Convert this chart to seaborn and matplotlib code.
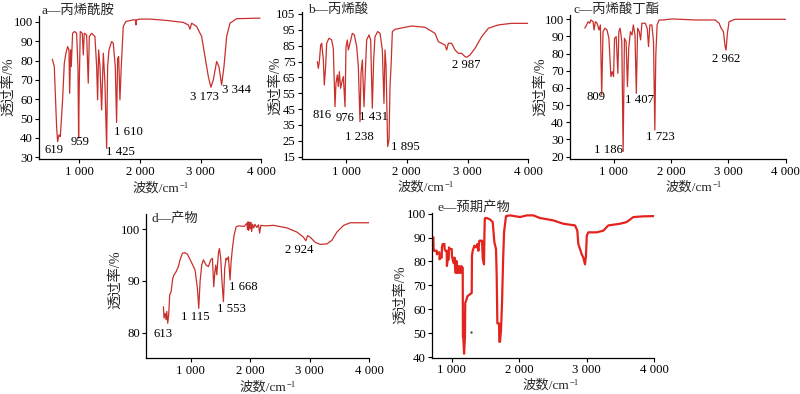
import numpy as np
import pandas as pd
import matplotlib
matplotlib.use('Agg')
import matplotlib.pyplot as plt
import seaborn as sns

# ---------------- data ----------------
a_wn = [555, 588, 626, 643, 665, 687, 725, 753, 780, 808, 830, 841, 857, 868, 890, 923, 956, 978, 989, 1000,
        1016, 1049, 1066, 1082, 1121, 1148, 1165, 1203, 1258, 1286, 1302, 1319, 1341, 1368, 1396, 1423, 1451, 1467,
        1489, 1533, 1560, 1593, 1615, 1632, 1649, 1670, 1692, 1725, 1769, 1890, 1925, 1934, 1943, 2000, 2165, 2440,
        2714, 2797, 2824, 2852, 2934, 3017, 3072, 3127, 3170, 3209, 3264, 3302, 3346, 3385, 3429, 3484, 3594, 3978]
a_tr = [80.7, 76.9, 45.9, 38.1, 41.6, 40.7, 59.7, 78.6, 83.8, 87.2, 85.5, 63.1, 85.5, 76.9, 94.1, 95, 94.1, 76.9, 40, 68.3,
        95, 94.1, 82.9, 94.1, 93.3, 68.3, 92.4, 94.1, 92.4, 76.9, 59.7, 85.5, 76.9, 54.5, 83.8, 68.3, 34.7, 76.9,
        85.5, 89.8, 89, 76.9, 48, 81.2, 82, 59.7, 76.9, 97.6, 100.2, 101, 101, 98.4, 101, 101.4, 101.4, 100.7,
        99.7, 98.4, 96.2, 99.3, 97.6, 92.4, 82, 71.7, 66.2, 70, 79.5, 76.9, 67.4, 76.9, 92.4, 99.3, 101.6, 101.9]
a_labels = ["619", "959", "1 425", "1 610", "3 173", "3 344"]
a_lab_x = [582, 1011, 1681, 1808, 3055, 3588]
a_lab_y = [33.8, 38, 33, 43, 61.4, 64.8]

b_wn = [528, 545, 561, 583, 600, 627, 643, 665, 682, 720, 764, 791, 819, 835, 857, 874, 890, 912, 934, 956,
        984, 1000, 1022, 1038, 1066, 1104, 1137, 1176, 1203, 1230, 1247, 1269, 1296, 1313, 1340, 1379, 1406, 1433,
        1455, 1477, 1521, 1560, 1598, 1625, 1642, 1659, 1686, 1708, 1724, 1741, 1763, 1806, 1971, 2081, 2300,
        2465, 2520, 2574, 2629, 2657, 2684, 2739, 2794, 2849, 2903, 2958, 2986, 3041, 3123, 3233, 3343, 3507,
        3726, 4000]
b_tr = [74.9, 70.7, 74.9, 85.4, 86.5, 76, 60.2, 71.8, 86.5, 89.7, 88.6, 83.3, 46.5, 61.3, 66.5, 59.2, 68.6, 58.1,
        62.3, 65.5, 46.5, 84.4, 88.6, 82.3, 86.5, 92.8, 91.8, 84.4, 71.8, 37.1, 67.6, 76, 46.5, 63.4, 88.6, 91.8,
        88.6, 45.5, 76, 90.7, 93.9, 92.8, 82.3, 48.6, 82.3, 71.8, 21.3, 25.5, 59.2, 71.8, 93.9, 95.3, 96.6, 97.4,
        96.6, 92.8, 87.5, 86.5, 85.4, 82.3, 86.5, 86.5, 82.3, 80.2, 80.2, 78.1, 77.7, 79.1, 83.3, 90.7, 96, 98.1,
        99.1, 99.1]
b_labels = ["816", "976", "1 431", "1 238", "1 895", "2 987"]
b_lab_x = [611, 984, 1455, 1214, 1971, 2980]
b_lab_y = [41.3, 39.2, 40.2, 27.6, 21.3, 72.8]

c_wn = [499, 557, 585, 603, 643, 660, 683, 712, 747, 770, 793, 816, 850, 885, 919, 954, 977, 1000, 1017, 1046,
        1075, 1092, 1115, 1144, 1167, 1190, 1219, 1242, 1265, 1294, 1322, 1345, 1374, 1397, 1420, 1449, 1472, 1495,
        1553, 1587, 1610, 1633, 1668, 1697, 1720, 1737, 1760, 1794, 1852, 2025, 2428, 2773, 2842, 2877, 2917,
        2946, 2963, 2986, 3015, 3119, 4000]
c_tr = [94.8, 98.6, 97.7, 99.6, 98.6, 93.8, 98.6, 97.7, 93.8, 96.7, 55.9, 92.8, 94.8, 93.8, 88.9, 66.6, 69.5, 66.6,
        88.9, 89.9, 68.5, 92.8, 94.8, 87, 23, 88.9, 87, 60.8, 83.1, 92.8, 90.9, 96.7, 90.9, 56.9, 94.8, 92.8, 88,
        97.7, 97.7, 94.8, 84.1, 96.7, 96.7, 87, 35.5, 79.2, 96.7, 99.6, 99.6, 100.2, 99.6, 99.6, 97.7, 94.8, 92.8,
        84.1, 82.1, 91.8, 98.6, 100, 100]
c_labels = ["809", "1 186", "1 407", "1 723", "2 962"]
c_lab_x = [695, 902, 1461, 1812, 2957]
c_lab_y = [55, 23.9, 53, 31.7, 76.7]

d_wn = [540, 551, 568, 585, 596, 613, 630, 646, 669, 697, 719, 753, 792, 820, 860, 905, 944, 978, 1034, 1073,
        1112, 1135, 1157, 1185, 1213, 1258, 1297, 1337, 1365, 1387, 1404, 1421, 1438, 1466, 1483, 1505, 1522,
        1550, 1572, 1595, 1606, 1634, 1662, 1679, 1701, 1730, 1763, 1802, 1900, 1945, 1955, 1965, 1975, 1990,
        2000, 2010, 2025, 2040, 2060, 2080, 2110, 2140, 2160, 2180, 2250, 2393, 2618, 2786, 2897, 2938, 2965,
        3011, 3095, 3180, 3292, 3376, 3460, 3573, 3685, 4000]
d_tr = [85, 82.8, 83.7, 82.5, 84.1, 81.8, 83.7, 87.3, 87.9, 90.5, 91.2, 91.8, 92.8, 94.1, 95.4, 95.5, 95.2, 94.4,
        93.1, 92.1, 88.6, 84.7, 89.9, 93.1, 94.1, 93.1, 92.8, 94.1, 94.4, 88.9, 91.5, 93.1, 91.2, 95.4, 96.3, 94.4,
        90.5, 86, 92.5, 94.4, 94.1, 94.7, 90.2, 93.7, 96.3, 98.9, 100.5, 100.7, 100.6, 101.2, 100.0, 101.5, 99.8,
        101.3, 100.2, 101.4, 99.6, 101.0, 100.3, 101.0, 100.4, 100.9, 99.3, 100.8, 100.7, 100.8, 100.3, 99.5,
        98.5, 97.8, 98.8, 98.5, 97.5, 97.1, 97.2, 97.9, 99.5, 100.8, 101.3, 101.3]
d_labels = ["613", "1 115", "1 553", "1 668", "2 924"]
d_lab_x = [529, 1073, 1692, 1882, 2825]
d_lab_y = [79.7, 83.1, 84.5, 88.8, 96.0]

e_wn = [704, 729, 732, 744, 778, 781, 788, 818, 821, 827, 852, 855, 867, 892, 895, 906, 926, 929, 941, 956, 959,
        975, 1000, 1003, 1025, 1039, 1042, 1054, 1069, 1072, 1084, 1104, 1107, 1123, 1138, 1141, 1148, 1163, 1166,
        1170, 1183, 1196, 1200, 1212, 1232, 1261, 1296, 1300, 1311, 1335, 1360, 1380, 1395, 1409, 1429, 1449, 1460,
        1464, 1478, 1485, 1490, 1498, 1518, 1567, 1607, 1632, 1656, 1666, 1676, 1701, 1705, 1715, 1730, 1745,
        1760, 1775, 1804, 1863, 2011, 2110, 2209, 2307, 2505, 2653, 2826, 2860, 2875, 2900, 2924, 2949, 2974,
        2988, 3000, 3023, 3146, 3245, 3319, 3492, 3590, 3689, 3837, 4000]
e_tr = [90.1, 90.1, 84.5, 84.5, 84.5, 83, 83.8, 83.8, 80.9, 81.6, 81.6, 85.9, 87.3, 87.3, 85.2, 84.5, 84.5, 78.1,
        80.9, 80.9, 85.9, 85.2, 85.2, 82.4, 79.5, 79.5, 81.6, 75.3, 75.3, 80.2, 75.3, 75.3, 78.1, 75.3, 75.3, 78.1,
        77.4, 77.4, 48.5, 49, 41.4, 48.5, 62.6, 63.5, 65.4, 66.1, 66.8, 82.4, 84.5, 86.6, 85.9, 87.3, 84.5, 88.7,
        88.7, 88.7, 80.9, 80.9, 78.8, 92.2, 97.9, 98.2, 98.2, 97.6, 96.5, 88, 85.2, 73.9, 54.1, 54.1, 46.4, 46.4,
        51.3, 62.6, 79.5, 92.2, 99, 99.3, 98.6, 99.3, 99.3, 98.2, 97.2, 95.8, 95.1, 92.9, 87.3, 85.2, 83.1, 81.6,
        78.8, 82.4, 90.8, 92.2, 92.2, 92.9, 95.1, 95.8, 96.5, 98.6, 98.9, 99]
e_dot = (1280, 50.6)

titles = ["a—丙烯酰胺", "b—丙烯酸", "c—丙烯酸丁酯", "d—产物", "e—预期产物"]
x_ticks = [1000, 2000, 3000, 4000]
x_tick_labels = ["1 000", "2 000", "3 000", "4 000"]

# ---------------- style ----------------
sns.set_style('ticks')
plt.rcParams['font.family'] = ['Liberation Serif', 'Noto Sans CJK SC']
plt.rcParams['axes.unicode_minus'] = True

W, H = 800, 394
fig = plt.figure(figsize=(8, 3.94), dpi=100)
fig.patch.set_facecolor('white')


def px_axes(l, r, t, b):
    return fig.add_axes([l / W, 1 - b / H, (r - l) / W, (b - t) / H])


def ftext(px, py, s, **kw):
    return fig.text(px / W, 1 - py / H, s, **kw)


FS_NUM = 9.2
FS_CJK = 9.6
FS_YL = 10.3
DARK_RED = '#c8302c'
BRIGHT_RED = '#e3231d'

panels = [
    dict(wn=a_wn, tr=a_tr, box=(39.3, 261.3, 16, 159.3), xlim=(341, 4000), ylim=(29, 103),
         yt=list(range(30, 101, 10)), labels=(a_labels, a_lab_x, a_lab_y),
         title=(42, 10), xl=(160, 188), yl=(8, 87), color=DARK_RED, lw=0.9),
    dict(wn=b_wn, tr=b_tr, box=(301.7, 528.3, 12.4, 159.3), xlim=(271, 4000), ylim=(13.3, 106),
         yt=list(range(15, 106, 10)), labels=(b_labels, b_lab_x, b_lab_y),
         title=(308, 10), xl=(425, 187), yl=(275, 86), color=DARK_RED, lw=0.9),
    dict(wn=c_wn, tr=c_tr, box=(570, 785.5, 15, 159.3), xlim=(240, 4000), ylim=(18.45, 102.5),
         yt=list(range(20, 101, 10)), labels=(c_labels, c_lab_x, c_lab_y),
         title=(573, 10), xl=(693, 187), yl=(540, 87), color=DARK_RED, lw=0.9),
    dict(wn=d_wn, tr=d_tr, box=(146, 369, 214, 358.3), xlim=(247, 4000), ylim=(75, 103),
         yt=[80, 90, 100], labels=(d_labels, d_lab_x, d_lab_y),
         title=(152, 218), xl=(267, 387), yl=(115, 280), color=DARK_RED, lw=0.9),
    dict(wn=e_wn, tr=e_tr, box=(432, 654.3, 213, 357.5), xlim=(708, 4000), ylim=(39.8, 100.3),
         yt=list(range(40, 101, 10)), labels=None,
         title=(437, 207), xl=(550, 385), yl=(400, 295), color=BRIGHT_RED, lw=1.6),
]

xlabel_texts = []
for i, p in enumerate(panels):
    ax = px_axes(*p['box'])
    df = pd.DataFrame({'wn': p['wn'], 'tr': p['tr']})
    sns.lineplot(data=df, x='wn', y='tr', ax=ax, color=p['color'], lw=p['lw'],
                 estimator=None, sort=False)
    ax.set_xlim(*p['xlim'])
    ax.set_ylim(*p['ylim'])
    ax.set_xticks(x_ticks)
    ax.set_xticklabels(x_tick_labels)
    ax.set_yticks(p['yt'])
    ax.set_yticklabels([str(v) for v in p['yt']])
    ax.set_xlabel('')
    ax.set_ylabel('')
    ax.tick_params(direction='out', length=3, width=0.8, labelsize=FS_NUM, pad=1.5, colors='black')
    for s in ['top', 'right']:
        ax.spines[s].set_visible(False)
    for s in ['left', 'bottom']:
        ax.spines[s].set_linewidth(0.9)
        ax.spines[s].set_color('black')
    ax.set_facecolor('none')
    if p['labels'] is not None:
        labs, lx, ly = p['labels']
        for t, x, y in zip(labs, lx, ly):
            ax.text(x, y, t, ha='center', va='center', fontsize=FS_NUM, color='black')
    if i == 4:
        ax.plot([e_dot[0]], [e_dot[1]], marker='.', ms=1.5, color='#555555')
    ftext(p['title'][0], p['title'][1], titles[i], ha='left', va='center', fontsize=FS_CJK)
    t = ftext(p['xl'][0] - 4, p['xl'][1], '波数/cm', ha='center', va='center', fontsize=FS_CJK)
    xlabel_texts.append(t)
    ftext(p['yl'][0], p['yl'][1], '透过率/%', ha='center', va='center', rotation=90, fontsize=FS_YL)

# superscript "-1" after each x label
fig.canvas.draw()
renderer = fig.canvas.get_renderer()
for t in xlabel_texts:
    bb = t.get_window_extent(renderer)
    fig.text((bb.x1 + 0.5) / W, (bb.y1 - 0.5) / H, '\u22121', ha='left', va='top', fontsize=6.2)

fig.savefig('out.png', dpi=100, facecolor='white')
